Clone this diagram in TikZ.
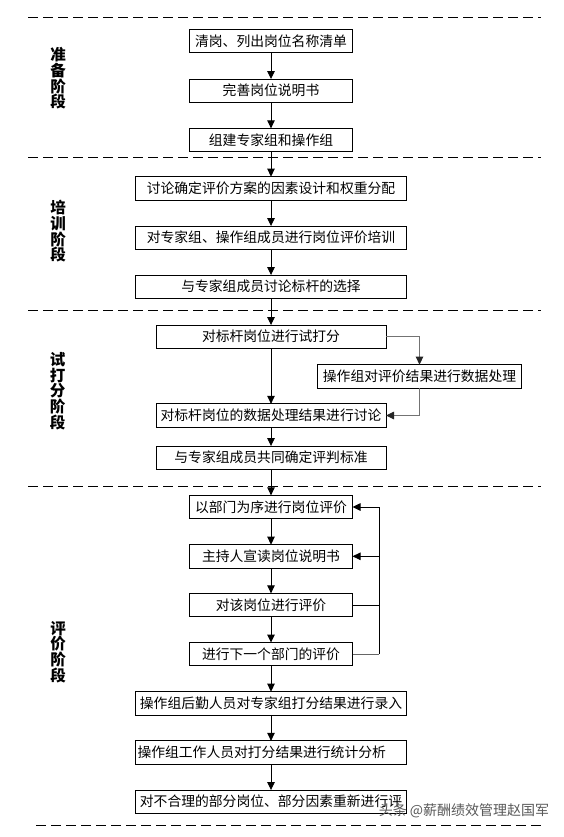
\documentclass[tikz,border=0pt]{standalone}
\usepackage{fontspec}
\setmainfont{Noto Sans CJK SC}
\usetikzlibrary{positioning,arrows.meta}
\tikzset{
  evalflowpic/.style={
    x=1pt,y=-1pt
    ,inner sep=0pt
    ,outer sep=0pt
  }
  ,stepbox/.style={draw=black,line width=.9pt,inner xsep=2pt
    ,minimum height=23.3pt
    ,font=\fontsize{13.8}{16}\selectfont
    ,align=center}
  ,narrowbox/.style={stepbox,text width=159pt}
  ,midbox/.style={stepbox,text width=226pt}
  ,widebox/.style={stepbox,text width=267pt}
  ,sidebox/.style={stepbox,text width=200pt}
  ,stagename/.style={font=\fontsize{15.5}{15.7}\selectfont\bfseries,align=center}
  ,stageline/.style={line width=.9pt,dash pattern=on 10pt off 5pt}
  ,flow/.style={line width=.9pt,-{Triangle[width=7.5pt,length=8pt]}}
  ,greyflow/.style={line width=.9pt,draw=black!55,-{Triangle[width=7.5pt,length=8pt,black!85]}}
  ,watermark/.style={font=\fontsize{14}{14}\selectfont,text=black!65}
}

\begin{document}
\begin{tikzpicture}[evalflowpic]
  \path[fill=white,use as bounding box] (0,0) rectangle (564,837);
  % stage separators
  \foreach \y in {17.7,157.3,310.7,486.7}
    \draw[stageline] (28,\y) -- (541,\y);
  \draw[stageline] (36,825) -- (541,825);
  % stage names
  \node[stagename] (prepname) at (58,78.5) {准\\备\\阶\\段};
  \node[stagename] (trainname) at (58,231.5) {培\\训\\阶\\段};
  \node[stagename] (trialname) at (57.5,391) {试\\打\\分\\阶\\段};
  \node[stagename] (evalname) at (58,652) {评\\价\\阶\\段};
  % preparation
  \node[narrowbox] (clear) at (271,41) {清岗、列出岗位名称清单};
  \node[narrowbox] (describe) at (271,90.7) {完善岗位说明书};
  \node[narrowbox] (groups) at (271,140) {组建专家组和操作组};
  % training
  \node[widebox] (factors) at (271,188.3) {讨论确定评价方案的因素设计和权重分配};
  \node[widebox] (train) at (271,237.7) {对专家组、操作组成员进行岗位评价培训};
  \node[widebox] (bench) at (271,286.7) {与专家组成员讨论标杆的选择};
  % trial scoring
  \node[midbox] (trial) at (271,336.7) {对标杆岗位进行试打分};
  \node[sidebox] (process) at (419.5,376.3) {操作组对评价结果进行数据处理};
  \node[midbox] (discuss) at (271,415.5) {对标杆岗位的数据处理结果进行讨论};
  \node[midbox] (standard) at (271,457.7) {与专家组成员共同确定评判标准};
  % evaluation
  \node[narrowbox] (bydept) at (271,507) {以部门为序进行岗位评价};
  \node[narrowbox] (readout) at (271,556.3) {主持人宣读岗位说明书};
  \node[narrowbox] (rate) at (271,605) {对该岗位进行评价};
  \node[narrowbox] (nextdept) at (271,654.2) {进行下一个部门的评价};
  \node[widebox] (entry) at (271,703.3) {操作组后勤人员对专家组打分结果进行录入};
  \node[widebox,align=left] (stats) at (271,752.5) {操作组工作人员对打分结果进行统计分析};
  \node[widebox] (redo) at (271,801.7) {对不合理的部分岗位、部分因素重新进行评};
  \coordinate (backbone) at (379,654.2);
  % main flow
  \foreach \a/\b in {clear/describe,describe/groups,groups/factors,factors/train,%
    train/bench,bench/trial,trial/discuss,discuss/standard,standard/bydept,%
    bydept/readout,readout/rate,rate/nextdept,nextdept/entry,entry/stats,stats/redo}
    \draw[flow] (\a) -- (\b);
  % side loops
  \draw[greyflow] (trial.east) -| (process.north);
  \draw[greyflow] (process.south) |- (discuss.east);
  \draw[line width=.9pt,draw=black!60] (nextdept.east) -- (backbone);
  \draw[flow] (backbone) |- (bydept.east);
  \draw[flow] (rate.east) -- (rate.east -| backbone) |- (readout.east);
  \node[watermark] (mark) at (464,811) {头条 @薪酬绩效管理赵国军};
\end{tikzpicture}
\end{document}
